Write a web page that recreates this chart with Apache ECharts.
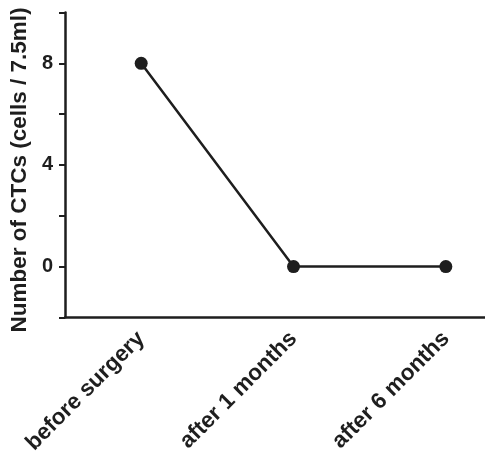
<!DOCTYPE html>
<html><head><meta charset="utf-8">
<script src="https://cdn.jsdelivr.net/npm/echarts@6/dist/echarts.min.js"></script>
<style>html,body{margin:0;padding:0;background:#fff;overflow:hidden}#c{width:522px;height:457px}</style>
</head><body><div id="c"></div>
<script>
const categories = ['before surgery', 'after 1 months', 'after 6 months'];
const ctcValues = [8, 0, 0];
const yLabels = [0, 4, 8];
const ink = '#1e1e1e';
const font = 'Liberation Sans, Arial, sans-serif';
const chart = echarts.init(document.getElementById('c'));
chart.setOption({
  animation: false,
  grid: { left: 61, right: 0, top: 12.5, bottom: 138.5 },
  xAxis: {
    type: 'category', data: categories, boundaryGap: true,
    axisLine: { onZero: false, lineStyle: { color: ink, width: 2.5 } },
    axisTick: { alignWithLabel: true, length: 6, lineStyle: { color: ink, width: 2 } },
    axisLabel: { rotate: 45, margin: 18, color: ink, fontFamily: font, fontWeight: 'bold', fontSize: 22.5 }
  },
  yAxis: {
    type: 'value', min: -2, max: 10, interval: 2,
    name: 'Number of CTCs (cells / 7.5ml)', nameLocation: 'middle', nameGap: 33,
    nameTextStyle: { color: ink, fontFamily: font, fontWeight: 'bold', fontSize: 22.5, padding: [0, 10, 0, 0] },
    splitLine: { show: false },
    axisLine: { show: true, lineStyle: { color: ink, width: 2.5 } },
    axisTick: { show: true, length: 6, lineStyle: { color: ink, width: 2 } },
    axisLabel: {
      color: ink, fontFamily: font, fontWeight: 'bold', fontSize: 20, margin: 12,
      formatter: v => yLabels.includes(v) ? String(v) : ''
    }
  },
  series: [{
    type: 'line', data: ctcValues, symbol: 'circle', symbolSize: 13,
    lineStyle: { color: ink, width: 2.5 }, itemStyle: { color: ink }
  }]
});
</script></body></html>
